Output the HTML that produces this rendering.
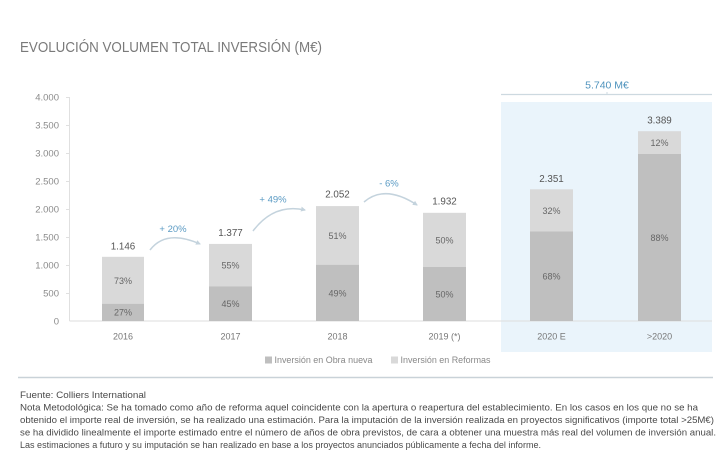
<!DOCTYPE html>
<html>
<head>
<meta charset="utf-8">
<style>
  html, body { margin:0; padding:0; background:#fff; }
  svg { display:block; font-family:"Liberation Sans", sans-serif; }
</style>
</head>
<body>
<svg width="727" height="459" viewBox="0 0 727 459" xmlns="http://www.w3.org/2000/svg">
  <defs>
    <marker id="ah" markerWidth="6" markerHeight="6" refX="4" refY="3" orient="auto" markerUnits="userSpaceOnUse">
      <path d="M0,0.5 L5,3 L0,5.5 Z" fill="#c4d3dd"/>
    </marker>
  </defs>

  <!-- Title -->
  <text x="20" y="52" font-size="14.5" fill="#7a7a7a" textLength="302" lengthAdjust="spacingAndGlyphs">EVOLUCIÓN VOLUMEN TOTAL INVERSIÓN (M€)</text>

  <!-- Highlight region -->
  <rect x="501" y="102" width="211" height="250" fill="#eaf4fb"/>
  <line x1="501" y1="94.5" x2="712" y2="94.5" stroke="#cdd9e0" stroke-width="1.2"/>
  <line x1="607" y1="92" x2="607" y2="95" stroke="#cdd9e0" stroke-width="1"/>
  <text x="607" y="88.5" font-size="10.5" fill="#4f93bd" text-anchor="middle">5.740 M€</text>

  <!-- Axes -->
  <line x1="69.5" y1="97" x2="69.5" y2="321" stroke="#e0e0e0" stroke-width="1"/>
  <line x1="69.5" y1="321" x2="712" y2="321" stroke="#dedede" stroke-width="1"/>

  <!-- Y ticks -->
  <g font-size="9.5" fill="#8a8a8a" text-anchor="end">
    <text x="59" y="100.5">4.000</text>
    <text x="59" y="128.5">3.500</text>
    <text x="59" y="156.5">3.000</text>
    <text x="59" y="184.5">2.500</text>
    <text x="59" y="212.5">2.000</text>
    <text x="59" y="240.5">1.500</text>
    <text x="59" y="268.5">1.000</text>
    <text x="59" y="296.5">500</text>
    <text x="59" y="324.5">0</text>
  </g>
  <g stroke="#e0e0e0" stroke-width="1">
    <line x1="66" y1="97.5" x2="70" y2="97.5"/>
    <line x1="66" y1="125.5" x2="70" y2="125.5"/>
    <line x1="66" y1="153.5" x2="70" y2="153.5"/>
    <line x1="66" y1="181.5" x2="70" y2="181.5"/>
    <line x1="66" y1="209.5" x2="70" y2="209.5"/>
    <line x1="66" y1="237.5" x2="70" y2="237.5"/>
    <line x1="66" y1="265.5" x2="70" y2="265.5"/>
    <line x1="66" y1="293.5" x2="70" y2="293.5"/>
  </g>

  <!-- Bars: reformas (light) then obra nueva (dark) -->
  <g>
    <!-- 2016 -->
    <rect x="102" y="256.8" width="42" height="46.9" fill="#d9d9d9"/>
    <rect x="102" y="303.7" width="42" height="17.3" fill="#bfbfbf"/>
    <!-- 2017 -->
    <rect x="209" y="243.9" width="43" height="42.4" fill="#d9d9d9"/>
    <rect x="209" y="286.3" width="43" height="34.7" fill="#bfbfbf"/>
    <!-- 2018 -->
    <rect x="316" y="206.1" width="43" height="58.6" fill="#d9d9d9"/>
    <rect x="316" y="264.7" width="43" height="56.3" fill="#bfbfbf"/>
    <!-- 2019 -->
    <rect x="423" y="212.8" width="43" height="54.1" fill="#d9d9d9"/>
    <rect x="423" y="266.9" width="43" height="54.1" fill="#bfbfbf"/>
    <!-- 2020E -->
    <rect x="530" y="189.3" width="43" height="42.2" fill="#d9d9d9"/>
    <rect x="530" y="231.5" width="43" height="89.5" fill="#bfbfbf"/>
    <!-- >2020 -->
    <rect x="638" y="131.2" width="43" height="22.8" fill="#d9d9d9"/>
    <rect x="638" y="154" width="43" height="167" fill="#bfbfbf"/>
  </g>

  <!-- Value labels -->
  <g font-size="9.8" fill="#555" text-anchor="middle">
    <text x="123" y="249.5">1.146</text>
    <text x="230.5" y="236">1.377</text>
    <text x="337.5" y="197.5">2.052</text>
    <text x="444.5" y="204.5">1.932</text>
    <text x="551.5" y="182">2.351</text>
    <text x="659.5" y="123.5">3.389</text>
  </g>

  <!-- Percentage labels -->
  <g font-size="9" fill="#666" text-anchor="middle">
    <text x="123" y="284">73%</text>
    <text x="123" y="315.7">27%</text>
    <text x="230.5" y="268.5">55%</text>
    <text x="230.5" y="307">45%</text>
    <text x="337.5" y="239">51%</text>
    <text x="337.5" y="296.5">49%</text>
    <text x="444.5" y="243.3">50%</text>
    <text x="444.5" y="297.3">50%</text>
    <text x="551.5" y="214">32%</text>
    <text x="551.5" y="279.5">68%</text>
    <text x="659.5" y="146">12%</text>
    <text x="659.5" y="241">88%</text>
  </g>

  <!-- Year labels -->
  <g font-size="9" fill="#777" text-anchor="middle">
    <text x="123" y="339.5">2016</text>
    <text x="230.5" y="339.5">2017</text>
    <text x="337.5" y="339.5">2018</text>
    <text x="444.5" y="339.5">2019 (*)</text>
    <text x="551.5" y="339.5">2020 E</text>
    <text x="659.5" y="339.5">&gt;2020</text>
  </g>

  <!-- Growth arrows -->
  <g fill="none" stroke="#c4d3dd" stroke-width="1.5">
    <path d="M150,250 Q166,229 200,244" marker-end="url(#ah)"/>
    <path d="M253,231 Q274,203 305,210" marker-end="url(#ah)"/>
    <path d="M364,202 Q385,184 417,205" marker-end="url(#ah)"/>
  </g>
  <g font-size="9.5" fill="#5b9bc4" text-anchor="middle">
    <text x="173" y="232">+ 20%</text>
    <text x="273" y="202.5">+ 49%</text>
    <text x="389" y="186.5">- 6%</text>
  </g>

  <!-- Legend -->
  <rect x="265" y="356.5" width="7" height="7" fill="#bfbfbf"/>
  <text x="274.5" y="363" font-size="9" fill="#888" textLength="98" lengthAdjust="spacingAndGlyphs">Inversión en Obra nueva</text>
  <rect x="391" y="356.5" width="7" height="7" fill="#d9d9d9"/>
  <text x="400.5" y="363" font-size="9" fill="#888" textLength="90" lengthAdjust="spacingAndGlyphs">Inversión en Reformas</text>

  <!-- Rule -->
  <line x1="18" y1="377.5" x2="713" y2="377.5" stroke="#c9d2d8" stroke-width="1.5"/>

  <!-- Footer -->
  <g font-size="9" fill="#4a4a4a">
    <text x="20" y="398" textLength="126" lengthAdjust="spacingAndGlyphs">Fuente: Colliers International</text>
    <text x="20" y="410.5" textLength="678" lengthAdjust="spacingAndGlyphs">Nota Metodológica: Se ha tomado como año de reforma aquel coincidente con la apertura o reapertura del establecimiento. En los casos en los que no se ha</text>
    <text x="20" y="423" textLength="694" lengthAdjust="spacingAndGlyphs">obtenido el importe real de inversión, se ha realizado una estimación. Para la imputación de la inversión realizada en proyectos significativos (importe total &gt;25M€)</text>
    <text x="20" y="435.5" textLength="696" lengthAdjust="spacingAndGlyphs">se ha dividido linealmente el importe estimado entre el número de años de obra previstos, de cara a obtener una muestra más real del volumen de inversión anual.</text>
    <text x="20" y="448" textLength="521" lengthAdjust="spacingAndGlyphs">Las estimaciones a futuro y su imputación se han realizado en base a los proyectos anunciados públicamente a fecha del informe.</text>
  </g>
</svg>
</body>
</html>
